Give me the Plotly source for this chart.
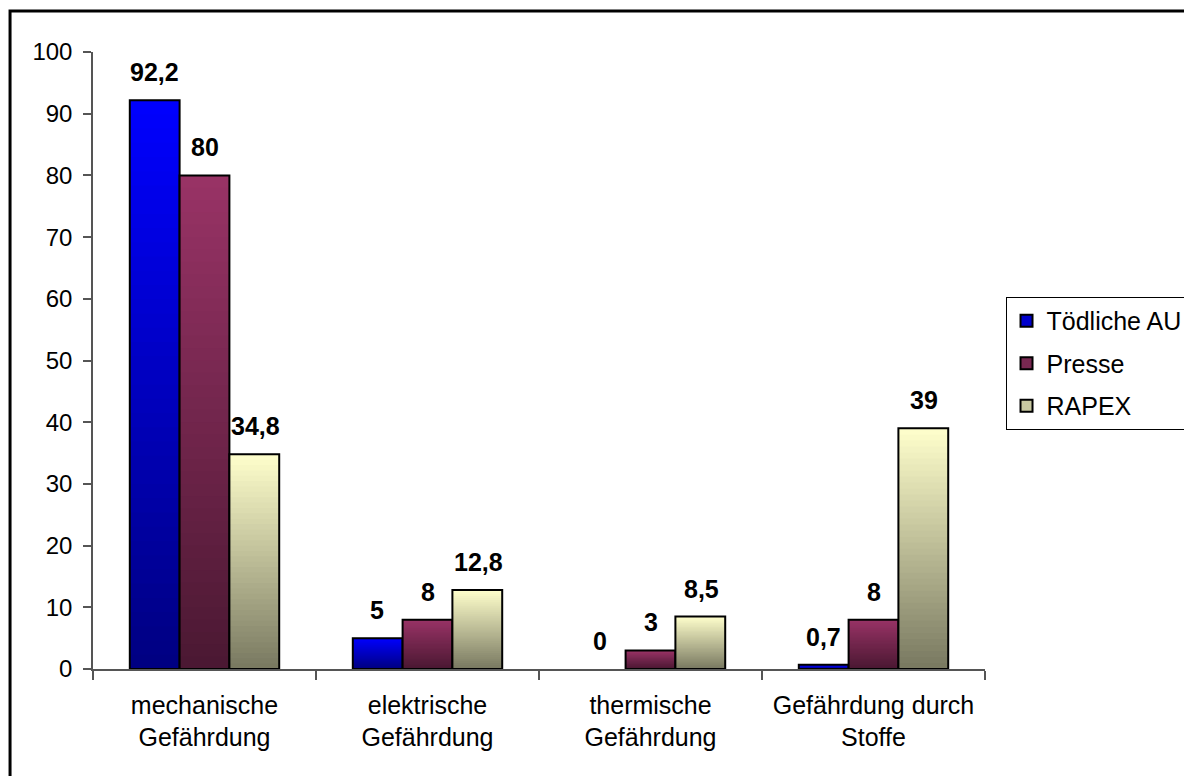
import plotly.graph_objects as go

categories = ["mechanische<br>Gefährdung", "elektrische<br>Gefährdung",
              "thermische<br>Gefährdung", "Gefährdung durch<br>Stoffe"]
series_names = ["Tödliche AU", "Presse", "RAPEX"]
toedliche_au = [92.2, 5, 0, 0.7]
presse = [80, 8, 3, 8]
rapex = [34.8, 12.8, 8.5, 39]
y_ticks = [0, 10, 20, 30, 40, 50, 60, 70, 80, 90, 100]

series_values = [toedliche_au, presse, rapex]
# (top colour, bottom colour) of the vertical gradient of each series
grad_colors = [((0, 0, 255), (0, 0, 128)),
               ((153, 51, 102), (74, 24, 50)),
               ((255, 255, 204), (120, 120, 96))]

FONT = "Liberation Sans, Arial, sans-serif"
N = 40

def mix(c_top, c_bot, t):
    # t = 0 bottom, 1 top
    return "rgb(%d,%d,%d)" % tuple(round(b + (a - b) * t) for a, b in zip(c_top, c_bot))

fig = go.Figure()

for k, (name, vals) in enumerate(zip(series_names, series_values)):
    top, bot = grad_colors[k]
    og = "g%d" % k
    # gradient: overlapping bars, each from fraction i/N up to the bar top
    for i in range(N):
        fig.add_trace(go.Bar(
            x=categories, y=[v * (N - i) / N for v in vals],
            base=[v * i / N for v in vals],
            offsetgroup=og, marker=dict(color=mix(top, bot, (i + 0.5) / N), line=dict(width=0)),
            showlegend=False, hoverinfo="skip"))
    # outline
    fig.add_trace(go.Bar(
        x=categories, y=vals, offsetgroup=og, name=name,
        marker=dict(color="rgba(0,0,0,0)",
                    line=dict(color="black", width=[2 if v else 0 for v in vals])),
        showlegend=False))
    # legend entry
    fig.add_trace(go.Bar(
        x=[categories[0]], y=[None], offsetgroup=og, name=name, legendgroup=name,
        marker=dict(color=mix(top, bot, 0.6), line=dict(color="black", width=1.5)),
        showlegend=True))

# data labels
for k, vals in enumerate(series_values):
    for c, v in zip(categories, vals):
        fig.add_annotation(
            x=c, y=v, text="<b>%s</b>" % ("%g" % v).replace(".", ","),
            xref="x", yref="y", showarrow=False, yanchor="bottom",
            xshift=(k - 1) * 50.5, yshift=12,
            font=dict(family=FONT, size=25, color="black"))

# outer border (left and top edges visible)
fig.add_shape(type="rect", xref="paper", yref="paper",
              x0=-0.093, x1=1.25, y0=-0.25, y1=1.0665,
              line=dict(color="black", width=3), fillcolor="rgba(0,0,0,0)")

fig.update_layout(
    width=1192, height=776,
    margin=dict(l=85, r=208, t=44, b=115),
    paper_bgcolor="white", plot_bgcolor="white",
    barmode="group", bargap=0.33, bargroupgap=0,
    font=dict(family=FONT, size=24, color="black"),
    legend=dict(x=1.023, y=0.603, xanchor="left", yanchor="top",
                bordercolor="black", borderwidth=1, bgcolor="white",
                font=dict(family=FONT, size=25), tracegroupgap=7,
                itemsizing="constant"),
    showlegend=True,
)
fig.update_xaxes(
    type="category", categoryorder="array", categoryarray=categories,
    showline=True, linecolor="#555", linewidth=1.5,
    ticks="outside", ticklen=9, tickcolor="#555", tickwidth=1.5,
    tickson="boundaries", showgrid=False, zeroline=False,
    tickfont=dict(family=FONT, size=25), ticklabelstandoff=13)
fig.update_yaxes(
    range=[0, 100], tickvals=y_ticks, ticktext=[str(t) for t in y_ticks],
    showline=True, linecolor="#555", linewidth=1.5,
    ticks="outside", ticklen=8, tickcolor="#555", tickwidth=1.5,
    showgrid=False, zeroline=False,
    tickfont=dict(family=FONT, size=24), ticklabelstandoff=6)

fig.write_html("out.html")
